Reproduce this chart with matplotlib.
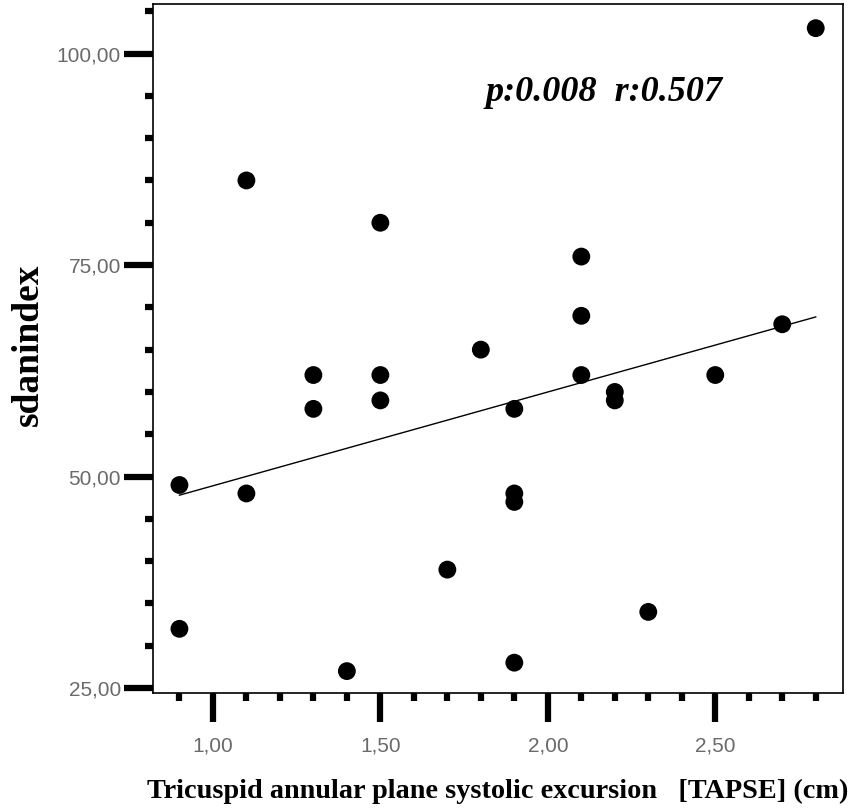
import matplotlib
matplotlib.use("Agg")
import matplotlib.pyplot as plt
import numpy as np

# TAPSE (cm) vs sdanindex
tapse = [0.9, 0.9, 1.1, 1.1, 1.3, 1.3, 1.4, 1.5, 1.5, 1.5, 1.7, 1.8, 1.9,
         1.9, 1.9, 1.9, 2.1, 2.1, 2.1, 2.2, 2.2, 2.3, 2.5, 2.7, 2.8]
sdanindex = [49, 32, 85, 48, 62, 58, 27, 80, 62, 59, 39, 65, 58,
             48, 47, 28, 76, 69, 62, 60, 59, 34, 62, 68, 103]

xticks = [1.0, 1.5, 2.0, 2.5]
xtick_labels = ["1,00", "1,50", "2,00", "2,50"]
yticks = [25, 50, 75, 100]
ytick_labels = ["25,00", "50,00", "75,00", "100,00"]
annotation = "p:0.008  r:0.507"

SERIF = ["Liberation Serif", "DejaVu Serif"]
SANS = ["Liberation Sans", "DejaVu Sans"]

fig = plt.figure(figsize=(8.57, 8.10), dpi=100)
ax = fig.add_axes([0.1785, 0.1444, 0.805, 0.8506])

x = np.array(tapse)
y = np.array(sdanindex)
ax.scatter(x, y, s=165, color="black", edgecolors="none", zorder=3)

# least squares line over the observed range
slope, intercept = np.polyfit(x, y, 1)
xl = np.array([x.min(), x.max()])
ax.plot(xl, intercept + slope * xl, color="black", lw=1.0, zorder=2)

ax.set_xlim(0.821, 2.881)
ax.set_ylim(24.41, 105.85)

ax.set_xticks(xticks)
ax.set_xticklabels(xtick_labels)
ax.set_xticks(np.arange(0.9, 2.85, 0.1), minor=True)
ax.set_yticks(yticks)
ax.set_yticklabels(ytick_labels)
ax.set_yticks(np.arange(30, 106, 5), minor=True)

ax.tick_params(which="major", direction="out", length=21, width=4.5,
               color="black", labelcolor="#6a6a6a", labelsize=15)
ax.tick_params(axis="x", which="major", pad=10)
ax.tick_params(axis="y", which="major", pad=2)
ax.tick_params(which="minor", direction="out", length=6, width=4.5,
               color="black")
for lab in ax.get_xticklabels() + ax.get_yticklabels():
    lab.set_family(SANS)

for side in ["left", "bottom", "top", "right"]:
    ax.spines[side].set_linewidth(1.2)
    ax.spines[side].set_color("black")

ax.set_xlabel("Tricuspid annular plane systolic excursion   [TAPSE] (cm)",
              family=SERIF, fontweight="bold", fontsize=20.3)
ax.set_ylabel("sdanindex", family=SERIF, fontweight="bold", fontsize=27)
ax.xaxis.set_label_coords(0.499, -0.125)
ax.yaxis.set_label_coords(-0.155, 0.505)

ax.text(0.654, 0.871, annotation, transform=ax.transAxes, ha="center",
        va="center", family=SERIF, fontweight="bold", fontstyle="italic",
        fontsize=26)

fig.savefig("out.png", dpi=100)
